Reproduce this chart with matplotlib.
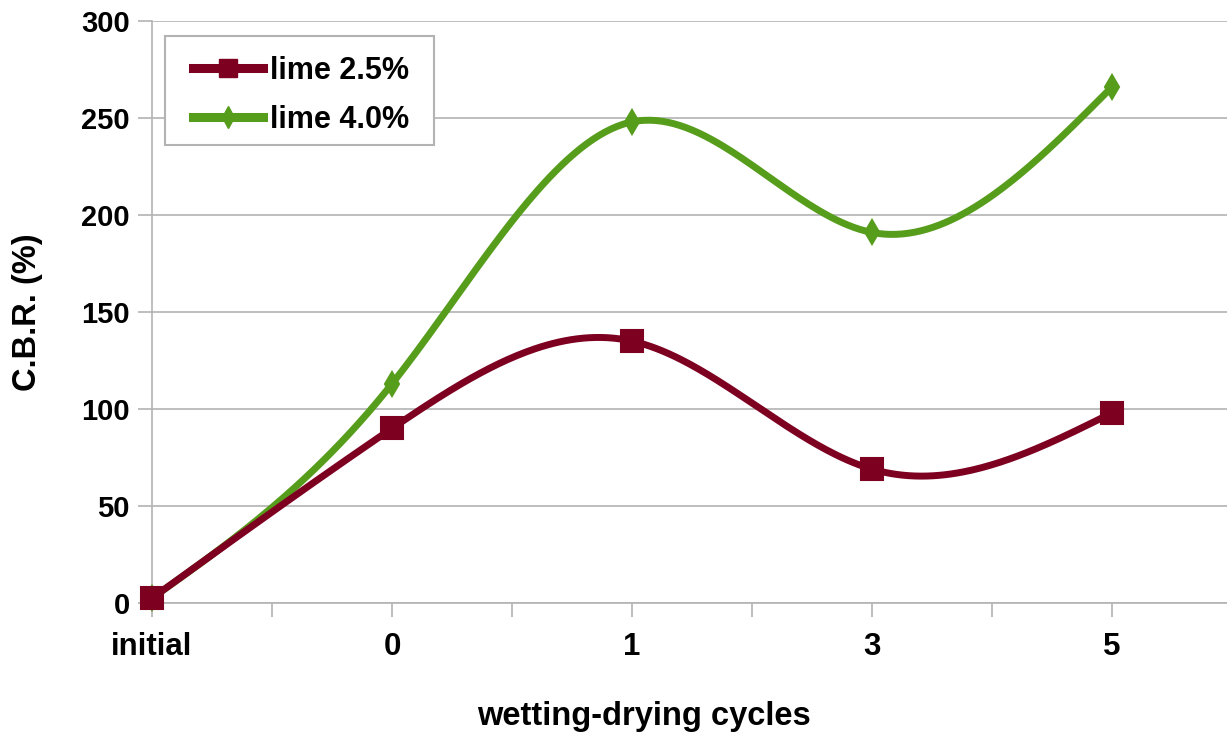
import matplotlib
matplotlib.use('Agg')
import matplotlib.pyplot as plt
import numpy as np
from matplotlib.lines import Line2D
from matplotlib.patches import Rectangle

# C.B.R. values after each number of wetting-drying cycles
cycles = ['initial', '0', '1', '3', '5']
cbr_lime_25 = [2.5, 90, 135, 69, 98]
cbr_lime_40 = [2.5, 113, 248, 191, 266]

RED = '#7e0021'
GREEN = '#579d1c'
GRID = '#b3b3b3'

plt.rcParams['font.family'] = ['Liberation Sans', 'DejaVu Sans']
plt.rcParams['font.weight'] = 'bold'

W, H = 1227, 733


def smooth(xs, ys, n=80):
    """ natural cubic spline through the points """
    x = np.asarray(xs, float)
    y = np.asarray(ys, float)
    k = len(x)
    h = np.diff(x)
    A = np.zeros((k, k))
    b = np.zeros(k)
    A[0, 0] = 1
    A[-1, -1] = 1
    for i in range(1, k - 1):
        A[i, i - 1] = h[i - 1]
        A[i, i] = 2 * (h[i - 1] + h[i])
        A[i, i + 1] = h[i]
        b[i] = 6 * ((y[i + 1] - y[i]) / h[i] - (y[i] - y[i - 1]) / h[i - 1])
    M = np.linalg.solve(A, b)
    px, py = [], []
    for i in range(k - 1):
        t = np.linspace(x[i], x[i + 1], n)
        a = x[i + 1] - t
        c = t - x[i]
        s = (M[i] * a ** 3 + M[i + 1] * c ** 3) / (6 * h[i]) \
            + (y[i] / h[i] - M[i] * h[i] / 6) * a \
            + (y[i + 1] / h[i] - M[i + 1] * h[i] / 6) * c
        px.append(t)
        py.append(s)
    return np.concatenate(px), np.concatenate(py)


fig = plt.figure(figsize=(W / 100, H / 100), dpi=100)
ax = fig.add_axes([152 / W, 1 - 603 / H, 1075 / W, 582 / H])

xpos = np.arange(len(cycles))
series = [(cbr_lime_40, GREEN, 'd', 12), (cbr_lime_25, RED, 's', 16)]
for vals, col, mk, ms in series:
    sx, sy = smooth(xpos, vals)
    ax.plot(sx, sy, color=col, lw=5, solid_capstyle='butt', zorder=3)
    ax.plot(xpos, vals, ls='none', marker=mk, ms=ms, color=col,
            mec=col, mew=1.5, clip_on=False, zorder=4)

ax.set_xlim(0, 1075 / 240)
ax.set_ylim(0, 300)
ax.set_yticks(np.arange(0, 301, 50))
ax.set_xticks(xpos)
ax.set_xticklabels(cycles)
ax.set_xticks(xpos[:-1] + 0.5, minor=True)

ax.grid(axis='y', color=GRID, lw=1.2)
ax.set_axisbelow(True)
for side in ['top', 'right']:
    ax.spines[side].set_visible(False)
for side in ['left', 'bottom']:
    ax.spines[side].set_color(GRID)
    ax.spines[side].set_linewidth(1.2)

ax.tick_params(axis='both', which='both', length=10, width=1.2, color=GRID,
               labelcolor='black')
ax.tick_params(axis='y', pad=6, labelsize=21)
ax.tick_params(axis='x', pad=11, labelsize=22.5)

fig.text(644 / W, 1 - 716 / H, 'wetting-drying cycles', fontsize=23.5,
         fontweight='bold', ha='center', va='center')
fig.text(28 / W, 1 - 312 / H, 'C.B.R. (%)', fontsize=23.5,
         fontweight='bold', ha='center', va='center', rotation=90)

# legend box drawn separately so the inner padding can differ per side
frame = Rectangle((165 / W, 1 - 145 / H), 269 / W, 109 / H,
                  transform=fig.transFigure, facecolor='white',
                  edgecolor=GRID, lw=1.5, zorder=4.5, clip_on=False)
ax.add_patch(frame)

handles = [Line2D([], [], color=RED, lw=6.5, marker='s', ms=13, mew=1),
           Line2D([], [], color=GREEN, lw=6.5, marker='d', ms=11, mew=1)]
leg = ax.legend(handles, ['lime 2.5%', 'lime 4.0%'], loc='upper left',
                bbox_to_anchor=(193 / W, 1 - 56 / H),
                bbox_transform=fig.transFigure, borderaxespad=0,
                fontsize=22, frameon=False, handlelength=2.29,
                handletextpad=0.23, borderpad=0, labelspacing=0.62)

fig.savefig('out.png', dpi=100)
